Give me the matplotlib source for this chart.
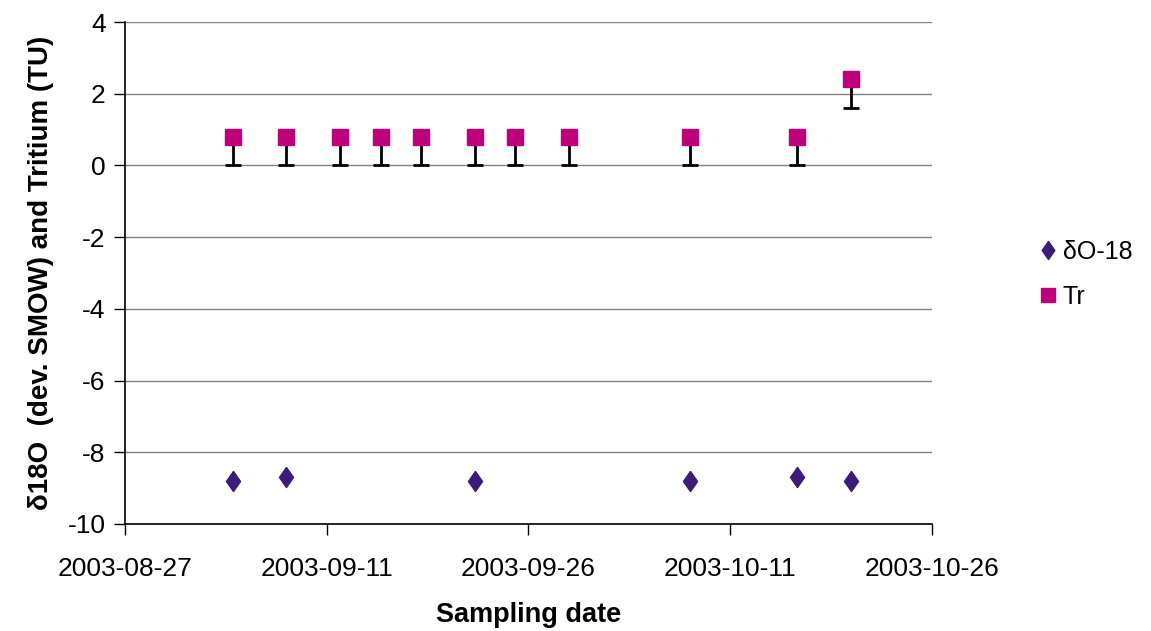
import numpy as np
import matplotlib.pyplot as plt
import matplotlib.dates as mdates
from datetime import datetime

plt.rcParams['font.family'] = ['Liberation Sans', 'DejaVu Sans']
plt.rcParams['axes.unicode_minus'] = False

# Sampling dates and measurements
tr_dates = ["2003-09-04", "2003-09-08", "2003-09-12", "2003-09-15", "2003-09-18",
            "2003-09-22", "2003-09-25", "2003-09-29", "2003-10-08", "2003-10-16",
            "2003-10-20"]
tr_values = [0.8, 0.8, 0.8, 0.8, 0.8, 0.8, 0.8, 0.8, 0.8, 0.8, 2.4]
tr_err_low = [0.8, 0.8, 0.8, 0.8, 0.8, 0.8, 0.8, 0.8, 0.8, 0.8, 0.8]

o18_dates = ["2003-09-04", "2003-09-08", "2003-09-22", "2003-10-08", "2003-10-16",
             "2003-10-20"]
o18_values = [-8.8, -8.7, -8.8, -8.8, -8.7, -8.8]

x_ticks = ["2003-08-27", "2003-09-11", "2003-09-26", "2003-10-11", "2003-10-26"]


def to_dt(lst):
    return [datetime.strptime(s, "%Y-%m-%d") for s in lst]


# slightly wide diamond marker
diamond = [(0, 1), (0.7, 0), (0, -1), (-0.7, 0), (0, 1)]

fig = plt.figure(figsize=(11.51, 6.31), dpi=100)
ax = fig.add_axes([0.1086, 0.1696, 0.7011, 0.7955])

ax.set_ylim(-10, 4)
ax.set_yticks(np.arange(-10, 5, 2))
ax.yaxis.grid(True, color='#808080', linewidth=1.0)
ax.set_axisbelow(True)

ticks = to_dt(x_ticks)
ax.set_xlim(ticks[0], ticks[-1])
ax.set_xticks(ticks)
ax.xaxis.set_major_formatter(mdates.DateFormatter("%Y-%m-%d"))

o18_line, = ax.plot(to_dt(o18_dates), o18_values, linestyle='none', marker=diamond,
                    markersize=14.5, color='#3b1c7a', label='\u03b4O-18')

# lower error bars only; hide the cap at the marker end
_, caps, _ = ax.errorbar(to_dt(tr_dates), tr_values,
                         yerr=[tr_err_low, [0] * len(tr_values)],
                         fmt='none', ecolor='black', elinewidth=2, capsize=6,
                         capthick=2, zorder=2)
caps[1].set_visible(False)
tr_line, = ax.plot(to_dt(tr_dates), tr_values, linestyle='none', marker='s',
                   markersize=11.5, color='#c0007a', label='Tr', zorder=3)

for side in ('top', 'right'):
    ax.spines[side].set_visible(False)
ax.spines['left'].set_linewidth(1.2)
ax.spines['bottom'].set_linewidth(1.2)
ax.tick_params(axis='both', direction='out', length=8, width=1, labelsize=19)
ax.tick_params(axis='x', pad=16)
ax.tick_params(axis='y', pad=6)

ax.set_xlabel("Sampling date", fontsize=19.5, fontweight='bold', labelpad=15)
ax.set_ylabel("\u03b418O  (dev. SMOW) and Tritium (TU)", fontsize=20,
              fontweight='bold', labelpad=10)

fig.legend(handles=[o18_line, tr_line], labels=['\u03b4O-18', 'Tr'],
           loc='center left', bbox_to_anchor=(0.88, 0.565), frameon=False,
           fontsize=18, handletextpad=0.1, handlelength=1.0, labelspacing=0.85,
           markerscale=0.9)

fig.savefig("out.png", dpi=100)
